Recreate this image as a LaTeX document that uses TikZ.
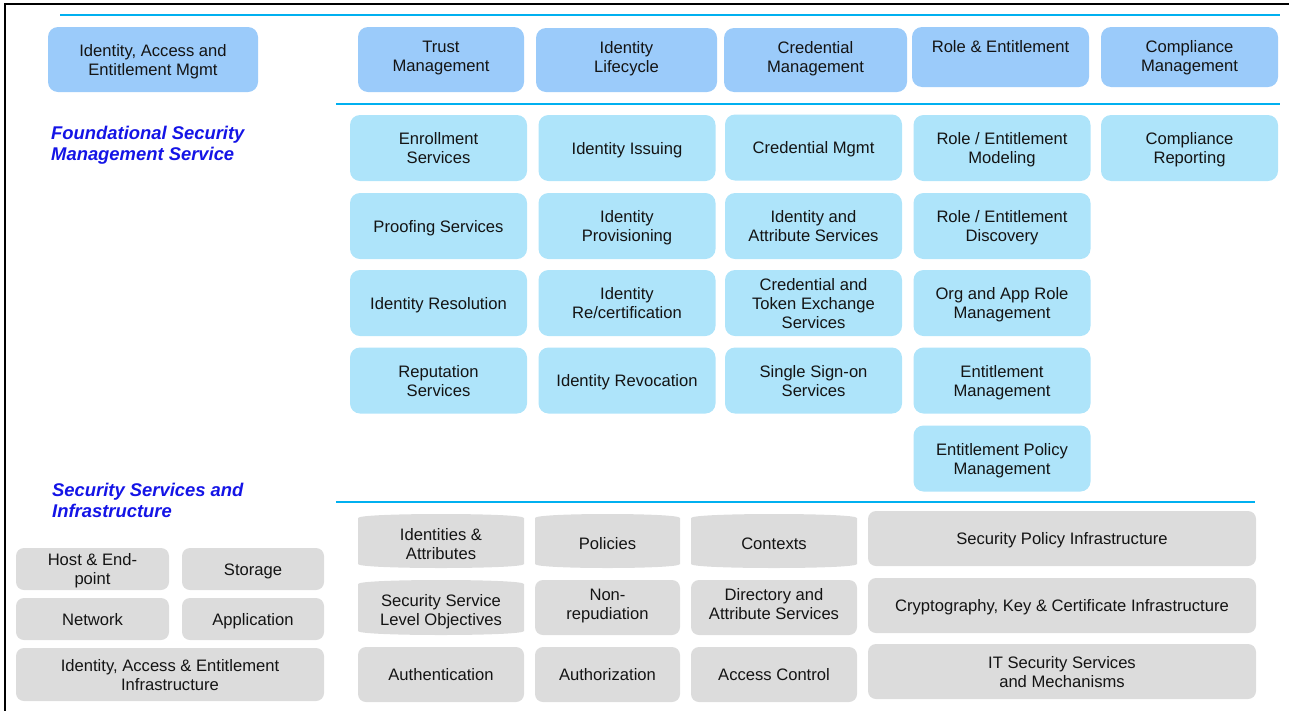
\documentclass[tikz,border=0pt]{standalone}
\usepackage{fontspec}
\setmainfont{Liberation Sans}
\definecolor{topblue}{RGB}{155,203,250}
\definecolor{lightblue}{RGB}{174,228,250}
\definecolor{greyfill}{RGB}{220,220,220}
\definecolor{rulecol}{RGB}{0,176,240}
\definecolor{titleblue}{RGB}{20,20,230}
\definecolor{txtcol}{RGB}{20,20,20}
\tikzset{
  wh/.style 2 args={minimum width=#1pt, minimum height=#2pt},
  basebox/.style={inner sep=0pt, align=center, text=txtcol, font=\fontsize{16.6}{19}\selectfont,
    text height=12pt, text depth=0pt},
  ltwo/.style={text height=31pt},
  lthree/.style={text height=50pt},
  tbox/.style={basebox, fill=topblue, rounded corners=10pt},
  lbox/.style={basebox, fill=lightblue, rounded corners=10pt, wh={177}{66}},
  gbox/.style={basebox, fill=greyfill, rounded corners=8pt},
  ctext/.style={basebox},
  titletext/.style={inner sep=0pt, anchor=north west, align=left, text=titleblue, font=\fontsize{18.4}{21}\selectfont\bfseries\itshape},
  seprule/.style={draw=rulecol, line width=1.6pt},
  frame/.style={draw=black, line width=1.6pt},
}
\newcommand\mycyl[7]{%
  \path[fill=greyfill] (#2,#3+4) .. controls (#2,#3-1.33) and (#4,#3-1.33) .. (#4,#3+4)
    -- (#4,#5-4) .. controls (#4,#5+1.33) and (#2,#5+1.33) .. (#2,#5-4) -- cycle;
  \node[ctext,#7] (#1) at ({(#2+#4)/2},{(#3+#5)/2+2.5}) {#6};}
\begin{document}
\begin{tikzpicture}[x=1pt,y=-1pt]
\useasboundingbox (0,0) rectangle (1289,710);
% frame
\draw[frame] (5,712) -- (5,4) -- (1291,4);
% separator rules
\draw[seprule] (60,15) -- (1280,15);
\draw[seprule] (336,104) -- (1280,104);
\draw[seprule] (336,502) -- (1255,502);

% titles
\node[titletext] (fsms) at (51,126) {Foundational Security\\Management Service};
\node[titletext] (ssi) at (52,482.5) {Security Services and\\Infrastructure};

% top row
\node[tbox, ltwo, wh={210}{65}] (iaem) at (153,59.5) {Identity, Access and\\Entitlement Mgmt};
\node[tbox, ltwo, wh={166}{65}, text depth=8pt] (trust) at (441,59.5) {Trust\\Management};
\node[tbox, ltwo, wh={181}{64}, text depth=7pt] (idlc) at (626.5,60) {Identity\\Lifecycle};
\node[tbox, ltwo, wh={183}{64}, text depth=7pt] (credm) at (815.5,60) {Credential\\Management};
\node[tbox, ltwo, wh={177}{60}, text depth=3pt] (roleent) at (1000.5,57) {Role \& Entitlement\\\phantom{Mg}};
\node[tbox, ltwo, wh={177}{60}, text depth=3pt] (compm) at (1189.5,57) {Compliance\\Management};

% column 1
\node[lbox, ltwo] (enroll) at (438.5,148) {Enrollment\\Services};
\node[lbox] (proof) at (438.5,226) {Proofing Services};
\node[lbox] (idres) at (438.5,303) {Identity Resolution};
\node[lbox, ltwo] (repu) at (438.5,380.5) {Reputation\\Services};
% column 2
\node[lbox] (idiss) at (627,148) {Identity Issuing};
\node[lbox, ltwo] (idprov) at (627,226) {Identity\\Provisioning};
\node[lbox, ltwo] (idrecert) at (627,303) {Identity\\Re/certification};
\node[lbox] (idrev) at (627,380.5) {Identity Revocation};
% column 3
\node[lbox] (credmgmt) at (813.5,147.5) {Credential Mgmt};
\node[lbox, ltwo] (idattr) at (813.5,226) {Identity and\\Attribute Services};
\node[lbox, lthree] (credtok) at (813.5,303) {Credential and\\Token Exchange\\Services};
\node[lbox, ltwo] (sso) at (813.5,380.5) {Single Sign-on\\Services};
% column 4
\node[lbox, ltwo] (rolemod) at (1002,148) {Role / Entitlement\\Modeling};
\node[lbox, ltwo] (roledisc) at (1002,226) {Role / Entitlement\\Discovery};
\node[lbox, ltwo] (orgrole) at (1002,303) {Org and App Role\\Management};
\node[lbox, ltwo] (entm) at (1002,380.5) {Entitlement\\Management};
\node[lbox, ltwo] (entpol) at (1002,458.5) {Entitlement Policy\\Management};
% column 5
\node[lbox, ltwo] (comprep) at (1189.5,148) {Compliance\\Reporting};

% security services grid
\mycyl{idattrs}{358}{514}{524}{568}{Identities \&\\Attributes}{ltwo}
\mycyl{policies}{535}{514}{680}{568}{Policies}{}
\mycyl{contexts}{691}{514}{857}{568}{Contexts}{}
\mycyl{sslo}{358}{580}{524}{635}{Security Service\\Level Objectives}{ltwo}
\node[gbox, ltwo, wh={145}{55}, text depth=7pt] (nonrep) at (607.5,607.5) {Non-\\repudiation};
\node[gbox, ltwo, wh={166}{55}, text depth=7pt] (dirattr) at (774,607.5) {Directory and\\Attribute Services};
\node[gbox, wh={166}{55}] (authn) at (441,674.5) {Authentication};
\node[gbox, wh={145}{55}] (authz) at (607.5,674.5) {Authorization};
\node[gbox, wh={166}{55}] (acc) at (774,674.5) {Access Control};
\node[gbox, wh={388}{55}] (secpol) at (1062,538.5) {Security Policy Infrastructure};
\node[gbox, wh={388}{55}] (crypto) at (1062,605.5) {Cryptography, Key \& Certificate Infrastructure};
\node[gbox, ltwo, wh={388}{55}] (itsec) at (1062,671.5) {IT Security Services\\and Mechanisms};

% left infrastructure
\node[gbox, ltwo, wh={153}{42}] (host) at (92.5,569) {Host \& End-\\point};
\node[gbox, wh={142}{42}] (storage) at (253,569) {Storage};
\node[gbox, wh={153}{42}] (network) at (92.5,619) {Network};
\node[gbox, wh={142}{42}] (app) at (253,619) {Application};
\node[gbox, ltwo, wh={308}{53}] (iaeinfra) at (170,674.5) {Identity, Access \& Entitlement\\Infrastructure};
\end{tikzpicture}
\end{document}
